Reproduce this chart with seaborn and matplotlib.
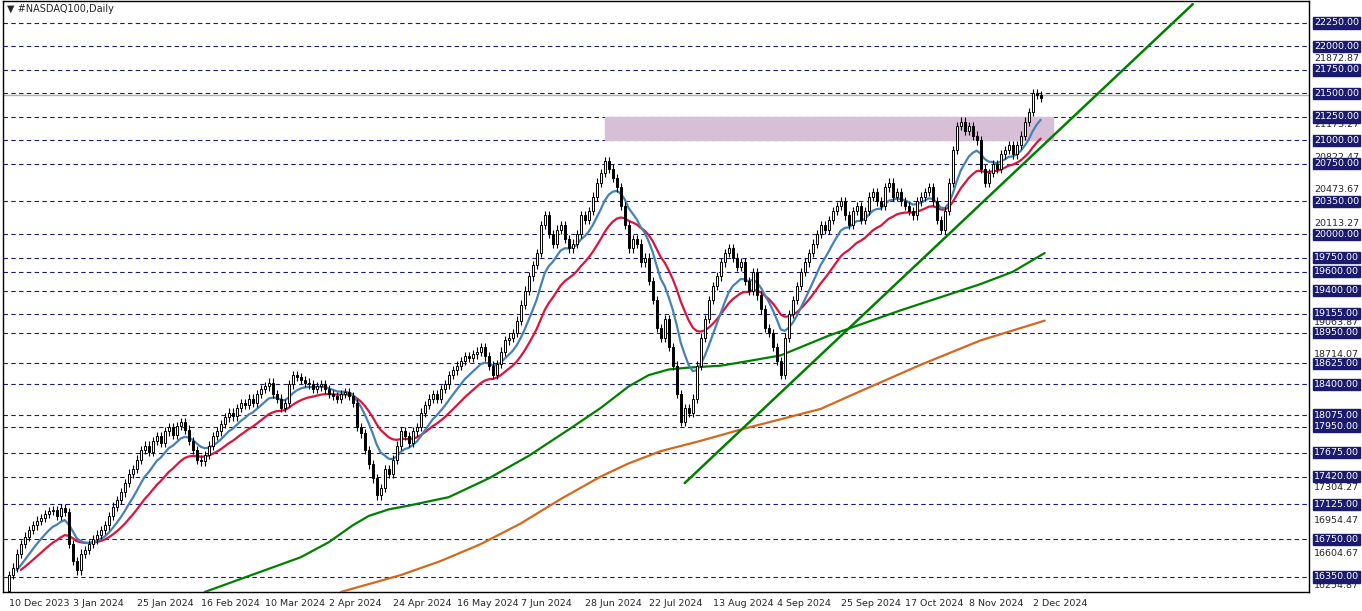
import numpy as np
import pandas as pd
import matplotlib
matplotlib.use('Agg')
import matplotlib.pyplot as plt
import matplotlib.transforms as mtransforms
import seaborn as sns

# daily closes (16 bars per date label)
closes = [
    16370, 16450, 16600, 16700, 16780, 16850, 16900, 16950, 16980, 17020, 17050, 17060, 17000, 17080, 17040, 16700,
    16520, 16420, 16600, 16640, 16700, 16750, 16800, 16850, 16900, 17000, 17100, 17170, 17250, 17350, 17450, 17500,
    17600, 17700, 17750, 17680, 17800, 17850, 17780, 17900, 17950, 17860, 17960, 18000, 17920, 17800, 17700, 17600,
    17580, 17650, 17750, 17850, 17900, 17980, 18050, 18100, 18060, 18150, 18200, 18180, 18250, 18200, 18300, 18350,
    18380, 18420, 18300, 18250, 18150, 18200, 18400, 18500, 18480, 18450, 18420, 18400, 18350, 18380, 18400, 18350,
    18300, 18280, 18250, 18300, 18320, 18280, 18200, 17950, 17880, 17700, 17550, 17400, 17220, 17300, 17500, 17450,
    17600, 17750, 17900, 17850, 17780, 17900, 17950, 18100, 18180, 18250, 18300, 18250, 18350, 18400, 18500, 18550,
    18600, 18650, 18700, 18680, 18720, 18750, 18800, 18700, 18600, 18500, 18620, 18750, 18870, 18900, 18950, 19080,
    19250, 19400, 19550, 19670, 19800, 20100, 20200, 20000, 19900, 20050, 20100, 19950, 19850, 19900, 20000, 20200,
    20150, 20250, 20400, 20550, 20650, 20780, 20700, 20600, 20500, 20300, 20100, 19850, 19950, 19900, 19700, 19750,
    19500, 19300, 19000, 18900, 19100, 18800, 18600, 18300, 18000, 18150, 18100, 18250, 18600, 18900, 19100, 19300,
    19450, 19550, 19700, 19800, 19850, 19750, 19650, 19700, 19500, 19400, 19600, 19350, 19200, 19000, 18950, 18800,
    18650, 18500, 18900, 19150, 19300, 19450, 19600, 19700, 19800, 19900, 20000, 20100, 20050, 20150, 20250, 20300,
    20350, 20200, 20100, 20250, 20300, 20150, 20250, 20400, 20450, 20350, 20300, 20500, 20550, 20400, 20450, 20350,
    20300, 20250, 20200, 20350, 20400, 20450, 20500, 20350, 20150, 20050, 20250, 20550, 20900, 21150, 21200, 21100,
    21150, 21050, 21000, 20700, 20550, 20650, 20750, 20700, 20850, 20900, 20950, 20850, 20950, 21050, 21200, 21300,
    21500, 21480, 21450,
]
first_open = 16200

# long moving averages (readings, bar index -> price)
ma100_idx = [49, 60, 73, 80, 86, 90, 95, 100, 110, 120, 130, 140, 148, 155, 160, 165, 170, 178, 185, 193, 205, 215, 223, 233, 243, 251, 259]
ma100_val = [16190, 16360, 16560, 16720, 16900, 17000, 17070, 17110, 17200, 17400, 17640, 17920, 18150, 18380, 18500, 18560, 18580, 18600, 18650, 18710, 18920, 19070, 19190, 19330, 19470, 19600, 19800]
ma200_idx = [83, 98, 108, 118, 128, 138, 148, 155, 163, 173, 183, 193, 203, 213, 228, 243, 259]
ma200_val = [16190, 16370, 16520, 16700, 16920, 17180, 17420, 17560, 17690, 17800, 17920, 18030, 18140, 18330, 18610, 18870, 19080]

# trend line and resistance zone
trend_idx = [169, 296]
trend_val = [17350, 22450]
zone_idx = [149, 261]
zone_val = [21000, 21250]

date_labels = ['10 Dec 2023', '3 Jan 2024', '25 Jan 2024', '16 Feb 2024', '10 Mar 2024', '2 Apr 2024',
               '24 Apr 2024', '16 May 2024', '7 Jun 2024', '28 Jun 2024', '22 Jul 2024', '13 Aug 2024',
               '4 Sep 2024', '25 Sep 2024', '17 Oct 2024', '8 Nov 2024', '2 Dec 2024']

levels = [22250, 22000, 21750, 21500, 21250, 21000, 20750, 20350, 20000, 19750, 19600, 19400,
          19155, 18950, 18625, 18400, 18075, 17950, 17675, 17420, 17125, 16750, 16350]
scale_marks = [21872.87, 21173.27, 20822.47, 20473.67, 20113.27, 19063.87, 18714.07, 18364.27,
               17654.67, 17304.27, 16954.47, 16604.67, 16254.87]

NAVY = '#1a1a6e'

df = pd.DataFrame({'close': closes})
df['open'] = df['close'].shift(1).fillna(first_open)
df['high'] = df[['open', 'close']].max(axis=1) + 45
df['low'] = df[['open', 'close']].min(axis=1) - 45
df['ema_fast'] = df['close'].ewm(span=10, adjust=False).mean()
df['ema_slow'] = df['close'].ewm(span=21, adjust=False).mean()
x = np.arange(len(df))

sns.set_style('white')
plt.rcParams['font.family'] = ['DejaVu Sans']

fig = plt.figure(figsize=(13.62, 6.11), dpi=100)
ax = fig.add_axes([0.002, 19 / 611, 1306 / 1362, 591 / 611])

# resistance zone
ax.fill_between(zone_idx, zone_val[0], zone_val[1], color='#d8bfd8', zorder=1)

# horizontal levels
for lv in levels:
    ax.axhline(lv, color=NAVY, ls=(0, (4, 3)), lw=0.8, zorder=0)
ax.axhline(21480, color='#b0b0b0', lw=1, zorder=0)

# moving averages
sns.lineplot(x=ma200_idx, y=ma200_val, ax=ax, color='#d2691e', lw=1.6, zorder=3)
sns.lineplot(x=ma100_idx, y=ma100_val, ax=ax, color='#008000', lw=1.6, zorder=3)
sns.lineplot(x=x[3:], y=df['ema_slow'][3:], ax=ax, color='#dc143c', lw=1.6, zorder=3)
sns.lineplot(x=x[2:], y=df['ema_fast'][2:], ax=ax, color='#4682b4', lw=1.6, zorder=3)
sns.lineplot(x=trend_idx, y=trend_val, ax=ax, color='#008000', lw=1.8, zorder=3)

# candles
up = df['close'] >= df['open']
ax.vlines(x, df['low'], df['high'], color='black', lw=0.8, zorder=4)
body_lo = df[['open', 'close']].min(axis=1)
body_h = (df['close'] - df['open']).abs().clip(lower=8)
ax.bar(x[up], body_h[up], bottom=body_lo[up], width=0.6, color='white', edgecolor='black', lw=0.7, zorder=5)
ax.bar(x[~up], body_h[~up], bottom=body_lo[~up], width=0.6, color='black', edgecolor='black', lw=0.7, zorder=5)

ax.set_xlim(-1.5, 325)
ax.set_ylim(16190, 22484)
ax.set_xticks([])
ax.set_yticks([])
for s in ax.spines.values():
    s.set_color('black')
    s.set_linewidth(1)

# date labels below the plot
xt = mtransforms.blended_transform_factory(ax.transData, ax.transAxes)
for i, lab in enumerate(date_labels):
    ax.text(i * 16, -0.012, lab, transform=xt, ha='left', va='top', fontsize=6.8)

# price scale on the right
tr = mtransforms.blended_transform_factory(ax.transAxes, ax.transData)
for m in scale_marks:
    ax.text(1.004, m, f'{m:.2f}', transform=tr, ha='left', va='center', fontsize=6.8, clip_on=False)
for lv in levels:
    ax.text(1.004, lv, f'{lv:.2f}', transform=tr, ha='left', va='center', fontsize=6.8, color='white',
            clip_on=False, bbox=dict(boxstyle='square,pad=0.12', fc=NAVY, ec=NAVY))

ax.text(0.003, 0.995, '\u25bc #NASDAQ100,Daily', transform=ax.transAxes, ha='left', va='top', fontsize=7)

fig.savefig('out.png', dpi=100)
